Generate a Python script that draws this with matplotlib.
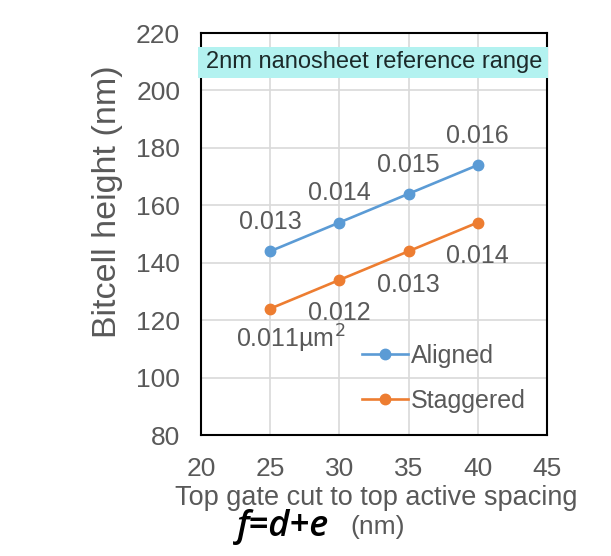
import matplotlib.pyplot as plt
from matplotlib.patches import Rectangle

# spacing f = d + e (nm)
spacing = [25, 30, 35, 40]
aligned = [144, 154, 164, 174]
staggered = [124, 134, 144, 154]
aligned_area = ["0.013", "0.014", "0.015", "0.016"]
staggered_area = ["0.011µm$^2$", "0.012", "0.013", "0.014"]
x_ticks = [20, 25, 30, 35, 40, 45]
y_ticks = [80, 100, 120, 140, 160, 180, 200, 220]

blue = "#5B9BD5"
orange = "#ED7D31"
grey = "#595959"

plt.rcParams['font.family'] = ['Liberation Sans', 'DejaVu Sans']

fig = plt.figure(figsize=(6.11, 5.56), dpi=100)
ax = fig.add_axes([0.329, 0.2176, 0.566, 0.723])

ax.plot(spacing, aligned, color=blue, lw=1.9, marker='o', ms=7.5, label="Aligned", zorder=3)
ax.plot(spacing, staggered, color=orange, lw=1.9, marker='o', ms=7.5, label="Staggered", zorder=3)

ax.set_xlim(20, 45)
ax.set_ylim(80, 220)
ax.set_xticks(x_ticks)
ax.set_yticks(y_ticks)
ax.grid(True, color="#d9d9d9", lw=1.2)
ax.set_axisbelow(True)
for s in ax.spines.values():
    s.set_color("black")
    s.set_linewidth(1.5)
ax.tick_params(length=0, labelsize=19, labelcolor=grey)
ax.tick_params(axis='y', pad=15)
ax.tick_params(axis='x', pad=16)

# area labels (um^2)
for x, y, t in zip(spacing, aligned, aligned_area):
    ax.annotate(t, (x, y), xytext=(0, 21), textcoords='offset points',
                ha='center', va='center', fontsize=18, color=grey)
for i, (x, y, t) in enumerate(zip(spacing, staggered, staggered_area)):
    dx = 15 if i == 0 else 0
    dy = -22 if i == 0 else -24
    ax.annotate(t, (x, y), xytext=(dx, dy), textcoords='offset points',
                ha='center', va='center', fontsize=18, color=grey)

# reference range banner
ax.add_patch(Rectangle((-0.008, 0.888), 1.012, 0.077, transform=ax.transAxes,
                       facecolor="#b3f2f0", edgecolor='none', clip_on=False, zorder=5))
ax.text(0.5, 0.927, "2nm nanosheet reference range", transform=ax.transAxes,
        ha='center', va='center', fontsize=17, color="#1c2a2a", zorder=6)

ax.set_ylabel("Bitcell height (nm)", fontsize=24.5, color=grey, va='center')
ax.yaxis.set_label_coords(-0.27, 0.58)
ax.set_xlabel("Top gate cut to top active spacing", fontsize=19.5, color=grey, va='top')
ax.xaxis.set_label_coords(0.507, -0.125)

ax.legend(loc='lower left', bbox_to_anchor=(0.465, 0.056), frameon=False,
          fontsize=18, labelcolor=grey, handlelength=1.84, handletextpad=0.12,
          labelspacing=0.84, borderpad=0, borderaxespad=0)

fig.text(0.388, 0.052, "f=d+e", fontsize=26, style='italic', weight='semibold',
         color='black', family=['Open Sans', 'DejaVu Sans'], ha='left', va='center')
fig.text(0.573, 0.052, "(nm)", fontsize=19, color=grey, ha='left', va='center')

fig.savefig("out.png", dpi=100)
